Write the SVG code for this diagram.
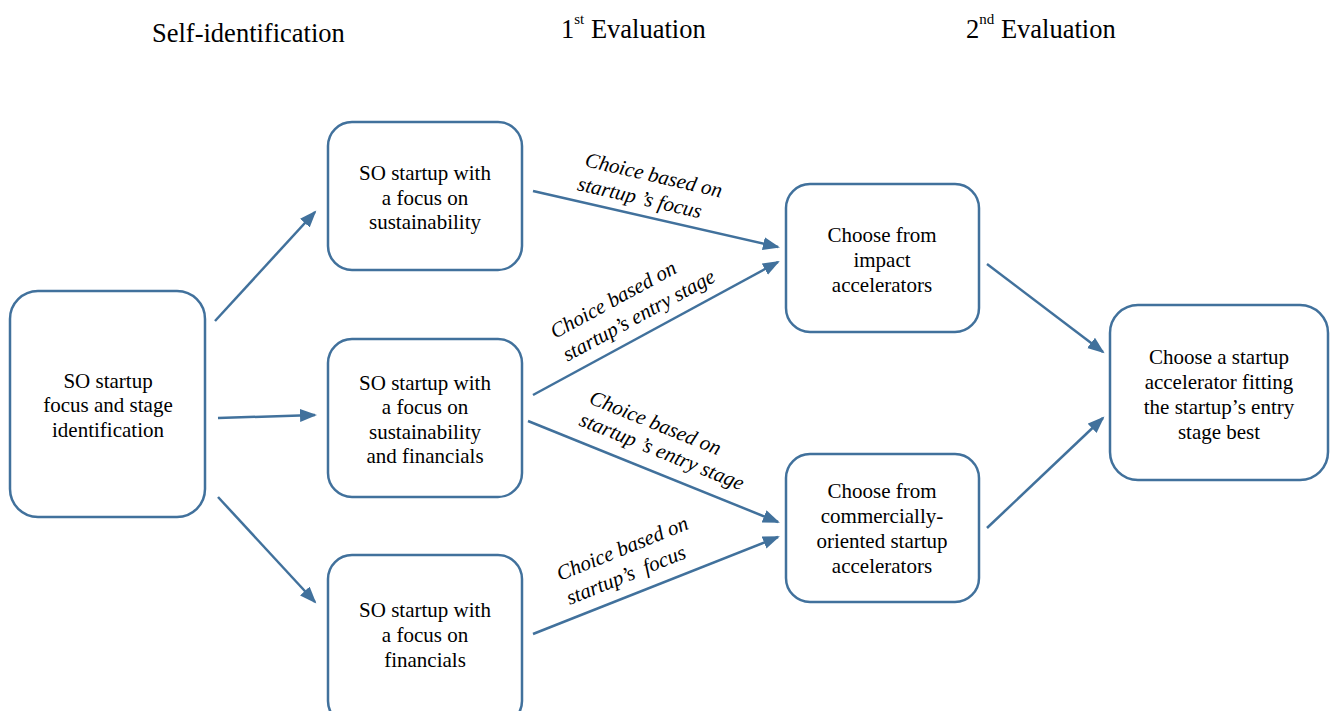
<svg xmlns="http://www.w3.org/2000/svg" width="1330" height="711" viewBox="0 0 1330 711">
<style>
.box{fill:#fff;stroke:#41719c;stroke-width:2.5}
.t{font-family:"Liberation Serif","Times New Roman",Tinos,serif;font-size:21px;fill:#000;text-anchor:middle}
.h{font-family:"Liberation Serif","Times New Roman",Tinos,serif;font-size:26.5px;fill:#000}
.l{font-family:"Liberation Serif","Times New Roman",Tinos,serif;font-size:21px;font-style:italic;fill:#000;white-space:pre}
.c{stroke:#41719c;stroke-width:2.5;fill:none;marker-end:url(#ah)}
</style>
<defs>
<marker id="ah" markerUnits="userSpaceOnUse" markerWidth="18" markerHeight="14" refX="15" refY="6.5" orient="auto">
<path d="M0,0 L17,6.5 L0,13 z" fill="#41719c"/>
</marker>
</defs>
<rect width="1330" height="711" fill="#fff"/>
<g id="headers">
<text class="h" x="152" y="42">Self-identification</text>
<text class="h" x="561" y="38">1<tspan font-size="15" dy="-14">st</tspan><tspan dy="14"> Evaluation</tspan></text>
<text class="h" x="966" y="38">2<tspan font-size="15" dy="-14">nd</tspan><tspan dy="14"> Evaluation</tspan></text>
</g>
<g id="n_left">
<rect class="box" x="10" y="291" width="195" height="226" rx="28"/>
<text class="t" x="108" y="388">SO startup</text>
<text class="t" x="108" y="412">focus and stage</text>
<text class="t" x="108" y="437">identification</text>
</g>
<g id="n_sust">
<rect class="box" x="328" y="122" width="194" height="148" rx="24"/>
<text class="t" x="425" y="180">SO startup with</text>
<text class="t" x="425" y="205">a focus on</text>
<text class="t" x="425" y="229">sustainability</text>
</g>
<g id="n_both">
<rect class="box" x="328" y="339" width="194" height="158" rx="24"/>
<text class="t" x="425" y="390">SO startup with</text>
<text class="t" x="425" y="414">a focus on</text>
<text class="t" x="425" y="439">sustainability</text>
<text class="t" x="425" y="463">and financials</text>
</g>
<g id="n_fin">
<rect class="box" x="328" y="555" width="194" height="170" rx="24"/>
<text class="t" x="425" y="617">SO startup with</text>
<text class="t" x="425" y="642">a focus on</text>
<text class="t" x="425" y="667">financials</text>
</g>
<g id="n_impact">
<rect class="box" x="786" y="184" width="193" height="148" rx="24"/>
<text class="t" x="882" y="242">Choose from</text>
<text class="t" x="882" y="267">impact</text>
<text class="t" x="882" y="292">accelerators</text>
</g>
<g id="n_comm">
<rect class="box" x="786" y="454" width="193" height="148" rx="24"/>
<text class="t" x="882" y="498">Choose from</text>
<text class="t" x="882" y="523">commercially-</text>
<text class="t" x="882" y="548">oriented startup</text>
<text class="t" x="882" y="573">accelerators</text>
</g>
<g id="n_final">
<rect class="box" x="1110" y="305" width="218" height="175" rx="28"/>
<text class="t" x="1219" y="364">Choose a startup</text>
<text class="t" x="1219" y="389">accelerator fitting</text>
<text class="t" x="1219" y="414">the startup’s entry</text>
<text class="t" x="1219" y="439">stage best</text>
</g>
<g id="connectors">
<line class="c" x1="215" y1="321" x2="315" y2="212"/>
<line class="c" x1="218" y1="418" x2="315" y2="415"/>
<line class="c" x1="218" y1="497" x2="315" y2="602"/>
<line class="c" x1="533" y1="191" x2="778" y2="247"/>
<line class="c" x1="533" y1="395" x2="778" y2="262"/>
<line class="c" x1="528" y1="421" x2="778" y2="522"/>
<line class="c" x1="533" y1="634" x2="778" y2="537"/>
<line class="c" x1="987" y1="264" x2="1103" y2="352"/>
<line class="c" x1="987" y1="528" x2="1103" y2="418"/>
</g>
<g id="labels">
<g transform="translate(584,166) rotate(13)">
<text class="l" x="0" y="0">Choice based on</text>
<text class="l" x="-2" y="25">startup ’s focus</text>
</g>
<g transform="translate(555,339) rotate(-28.5)">
<text class="l" x="0" y="0">Choice based on</text>
<text class="l" x="0" y="26">startup’s entry stage</text>
</g>
<g transform="translate(588,403) rotate(22)">
<text class="l" x="0" y="0">Choice based on</text>
<text class="l" x="-1" y="24">startup ’s entry stage</text>
</g>
<g transform="translate(560,581) rotate(-22)">
<text class="l" x="0" y="0">Choice based on</text>
<text class="l" x="0" y="26">startup’s  focus</text>
</g>
</g>
</svg>
